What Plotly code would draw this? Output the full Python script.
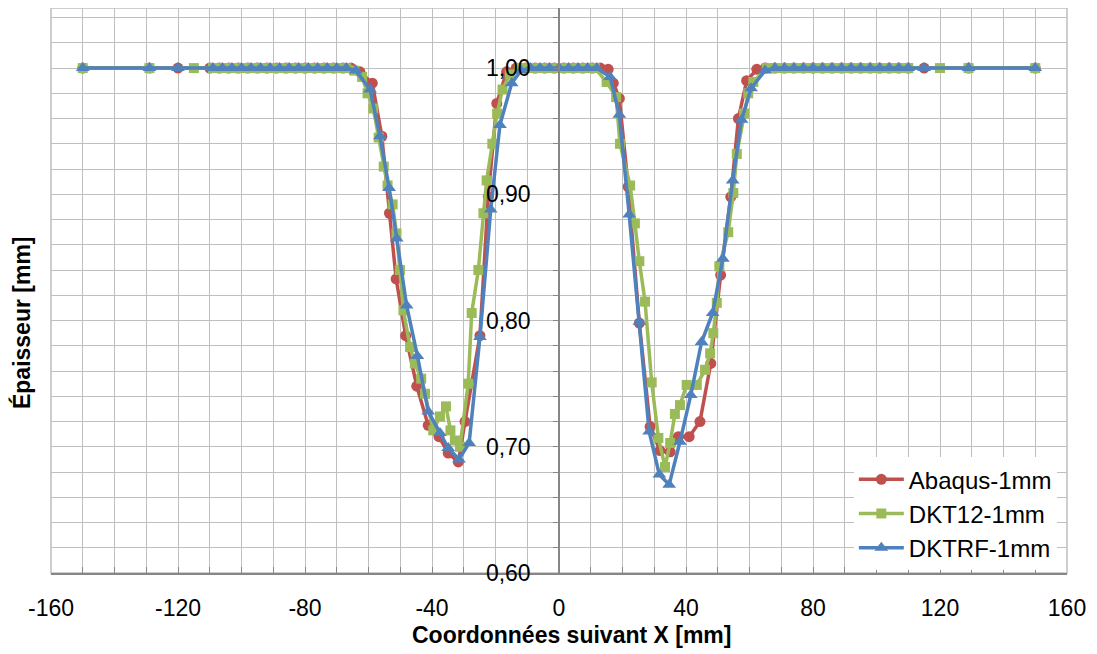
import plotly.graph_objects as go

# ---------------- data ----------------
abaqus_x = [-150, -129, -120,
            -110, -107, -104, -101, -98, -95, -92, -89, -86, -83, -80, -77, -74, -71, -68, -65.5,
            -62.7, -58.8, -55.8, -53.4, -51.3, -48.3, -44.8, -41.2, -37.8, -34.9, -31.7, -29.6,
            -24.9, -22.3, -19.6, -16.5,
            -13.5, -10.5, -7.5, -4.5, -1.5, 1.5, 4.5, 7.5, 10.5, 13.0,
            15.5, 17.1, 19.0, 21.8, 25.3, 28.7, 31.8, 35.0, 37.6, 41.0, 44.4, 47.8, 50.9, 54.1,
            56.5, 59.1, 62.3,
            65, 68, 71, 74, 77, 80, 83, 86, 89, 92, 95, 98, 101, 104, 107, 110, 115, 129, 150]
abaqus_y = [1.0, 1.0, 1.0,
            1.0, 1.0, 1.0, 1.0, 1.0, 1.0, 1.0, 1.0, 1.0, 1.0, 1.0, 1.0, 1.0, 1.0, 1.0, 1.0,
            0.997, 0.988, 0.946, 0.885, 0.833, 0.788, 0.748, 0.717, 0.708, 0.695, 0.688, 0.720,
            0.788, 0.898, 0.972, 0.997,
            1.0, 1.0, 1.0, 1.0, 1.0, 1.0, 1.0, 1.0, 1.0, 1.0,
            0.999, 0.988, 0.976, 0.906, 0.798, 0.716, 0.697, 0.696, 0.708, 0.708, 0.720, 0.766,
            0.836, 0.898, 0.960, 0.990, 0.999,
            1.0, 1.0, 1.0, 1.0, 1.0, 1.0, 1.0, 1.0, 1.0, 1.0, 1.0, 1.0, 1.0, 1.0, 1.0, 1.0, 1.0,
            1.0, 1.0]

dkt12_x = [-150, -129, -115,
           -109, -106, -103, -100, -97, -94, -91, -88, -85, -82, -79, -76, -73, -70, -67,
           -64.5, -62.0, -60.3, -58.5, -56.8, -55.2, -54.0, -52.4, -51.2, -50.1, -49.0, -46.9,
           -45.4, -43.4, -42.2, -39.6, -37.5, -35.6, -34.2, -32.8, -31.2, -28.6, -27.5, -25.4,
           -23.8, -22.8, -21.0, -19.5, -17.8, -15.5,
           -12.5, -9.5, -6.5, -3.5, -0.5, 2.5, 5.5, 8.5, 11.3,
           15.0, 18.0, 19.2, 22.4, 23.9, 25.3, 27.1, 29.2, 31.3, 33.4, 35.0, 36.5, 38.1, 40.2,
           43.4, 46.0, 47.6, 48.6, 49.7, 50.5, 53.3, 54.9, 56.0, 58.3, 59.6, 61.2, 65.4,
           68, 71, 74, 77, 80, 83, 86, 89, 92, 95, 98, 101, 104, 107, 110, 120, 129, 150]
dkt12_y = [1.0, 1.0, 1.0,
           1.0, 1.0, 1.0, 1.0, 1.0, 1.0, 1.0, 1.0, 1.0, 1.0, 1.0, 1.0, 1.0, 1.0, 1.0,
           0.998, 0.993, 0.980, 0.968, 0.945, 0.922, 0.907, 0.892, 0.869, 0.840, 0.808, 0.779,
           0.766, 0.754, 0.742, 0.713, 0.724, 0.732, 0.713, 0.705, 0.700, 0.750, 0.806, 0.840,
           0.885, 0.911, 0.940, 0.964, 0.983, 0.995,
           1.0, 1.0, 1.0, 1.0, 1.0, 1.0, 1.0, 1.0, 1.0,
           0.989, 0.977, 0.940, 0.907, 0.877, 0.847, 0.815, 0.751, 0.707, 0.684, 0.703, 0.726,
           0.733, 0.749, 0.749, 0.761, 0.774, 0.790, 0.814, 0.843, 0.870, 0.901, 0.932, 0.964,
           0.980, 0.989, 1.0,
           1.0, 1.0, 1.0, 1.0, 1.0, 1.0, 1.0, 1.0, 1.0, 1.0, 1.0, 1.0, 1.0, 1.0, 1.0, 1.0, 1.0,
           1.0]

dktrf_x = [-150, -129, -120,
           -109, -106, -103, -100, -97, -94, -91, -88, -85, -82, -79, -76, -73, -70, -67, -64,
           -59.5, -56.4, -53.5, -51.1, -48.0, -44.6, -41.2, -37.5, -34.9, -31.5, -28.3, -24.9,
           -21.5, -18.6, -14.9,
           -12, -9, -6, -3, 0, 3, 6, 9, 11.9,
           16.1, 19.0, 22.1, 25.3, 28.4, 31.6, 34.7, 38.1, 41.5, 44.9, 48.4, 51.6, 54.7, 57.5,
           60.5, 64.9,
           68, 71, 74, 77, 80, 83, 86, 89, 92, 95, 98, 101, 104, 107, 110, 115, 129, 150]
dktrf_y = [1.0, 1.0, 1.0,
           1.0, 1.0, 1.0, 1.0, 1.0, 1.0, 1.0, 1.0, 1.0, 1.0, 1.0, 1.0, 1.0, 1.0, 1.0, 0.998,
           0.983, 0.946, 0.905, 0.865, 0.812, 0.772, 0.728, 0.711, 0.699, 0.690, 0.703, 0.787,
           0.888, 0.955, 0.988,
           0.998, 1.0, 1.0, 1.0, 1.0, 1.0, 1.0, 1.0, 1.0,
           0.993, 0.963, 0.884, 0.799, 0.712, 0.678, 0.670, 0.704, 0.741, 0.783, 0.806, 0.849,
           0.911, 0.959, 0.984, 0.998,
           1.0, 1.0, 1.0, 1.0, 1.0, 1.0, 1.0, 1.0, 1.0, 1.0, 1.0, 1.0, 1.0, 1.0, 1.0, 1.0, 1.0,
           1.0]

series_names = ["Abaqus-1mm", "DKT12-1mm", "DKTRF-1mm"]
x_tick_vals = [-160, -120, -80, -40, 0, 40, 80, 120, 160]
y_tick_vals = [0.6, 0.7, 0.8, 0.9, 1.0]

# ---------------- figure ----------------
FONT = "Liberation Sans"
GRID = "#BFBFBF"
AXIS = "#868686"

fig = go.Figure()
styles = [
    ("#C0504D", "circle", 11),
    ("#9BBB59", "square", 10),
    ("#4F81BD", "triangle-up", 12),
]
for (xs, ys), name, (col, sym, sz) in zip(
        [(abaqus_x, abaqus_y), (dkt12_x, dkt12_y), (dktrf_x, dktrf_y)], series_names, styles):
    fig.add_trace(go.Scatter(
        x=xs, y=ys, name=name, mode="lines+markers",
        line=dict(color=col, width=3.5),
        marker=dict(color=col, symbol=sym, size=sz),
    ))

fig.update_layout(
    width=1089, height=646,
    margin=dict(l=43, r=30, t=0, b=81, autoexpand=False),
    paper_bgcolor="white", plot_bgcolor="white",
    separators=", ",
    font=dict(family=FONT, size=23, color="black"),
    showlegend=True,
    legend=dict(x=0.99, xanchor="right", y=0.005, yanchor="bottom",
                bgcolor="white", borderwidth=0, itemwidth=45,
                font=dict(family=FONT, size=24, color="black"),
                tracegroupgap=0),
    xaxis=dict(
        range=[-160, 160], tickvals=x_tick_vals, ticktext=[str(v) for v in x_tick_vals],
        showgrid=True, gridcolor=GRID, gridwidth=1.3,
        minor=dict(dtick=10, tick0=-160, showgrid=True, gridcolor=GRID, gridwidth=1.3,
                   ticks="inside", ticklen=6, tickcolor=AXIS),
        ticks="inside", ticklen=6, tickcolor=AXIS,
        showline=True, linecolor=AXIS, linewidth=1.5,
        zeroline=False, ticklabelstandoff=14,
        tickfont=dict(family=FONT, size=23),
    ),
    yaxis=dict(
        range=[0.6, 1.0476], tickvals=y_tick_vals, tickformat=".2f",
        anchor="free", position=0.5,
        showgrid=True, gridcolor=GRID, gridwidth=1.3,
        minor=dict(dtick=0.02, tick0=0.6, showgrid=True, gridcolor=GRID, gridwidth=1.3,
                   ticks="outside", ticklen=5, tickcolor=AXIS),
        ticks="outside", ticklen=5, tickcolor=AXIS,
        showline=True, linecolor=AXIS, linewidth=1.5,
        zeroline=False, ticklabelstandoff=18,
        tickfont=dict(family=FONT, size=23),
    ),
    shapes=[dict(type="rect", xref="paper", yref="paper", x0=0, x1=1, y0=0, y1=1,
                 line=dict(color=GRID, width=1.5), layer="below")],
    annotations=[
        dict(text="<b>Coordonnées suivant X [mm]</b>", xref="paper", yref="paper",
             x=0.512, y=-0.109, xanchor="center", yanchor="middle", showarrow=False,
             font=dict(family=FONT, size=23, color="black")),
        dict(text="<b>Épaisseur [mm]</b>", xref="paper", yref="paper",
             x=-0.0285, y=0.4425, xanchor="center", yanchor="middle", showarrow=False,
             textangle=-90, font=dict(family=FONT, size=23, color="black")),
    ],
)

fig.write_html("out.html")
